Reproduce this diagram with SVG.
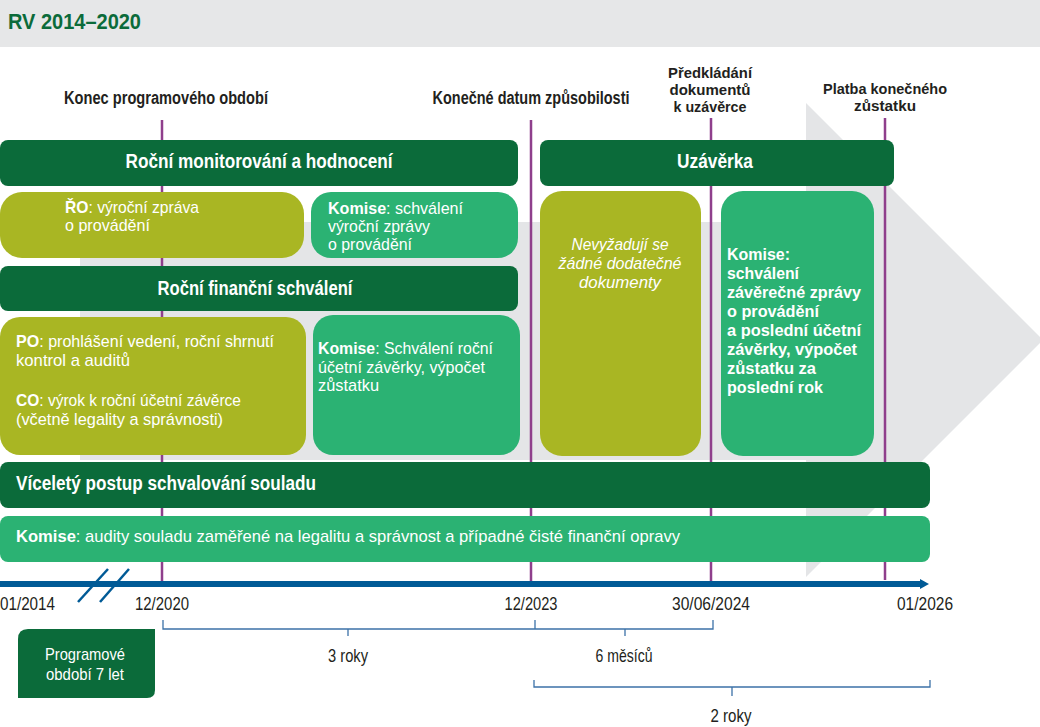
<svg xmlns="http://www.w3.org/2000/svg" width="1040" height="727" viewBox="0 0 1040 727">
<style>
text{font-family:"Liberation Sans",Arial,sans-serif;}
.lbl{font-size:18px;font-weight:bold;fill:#231f20;}
.lbs{font-size:15.5px;font-weight:bold;fill:#231f20;}
.date{font-size:19px;fill:#231f20;}
.bar{fill:#0b6b3a;}
.olive{fill:#a9b623;}
.green{fill:#2bb273;}
.bt{font-size:20px;font-weight:bold;fill:#fff;}
.tx{font-size:17px;fill:#fff;}
.fx{font-size:17px;font-weight:bold;fill:#fff;}
.b{font-weight:bold;}
.pl{stroke:#8f3f8c;stroke-width:2.5;fill:none;}
.br{stroke:#3c72a8;stroke-width:1.3;fill:none;}
</style>
<defs>
<marker id="ah" markerWidth="10" markerHeight="10" refX="0" refY="5" orient="auto" markerUnits="userSpaceOnUse">
<path d="M0,0 L9,5 L0,10 Z" fill="#005a96"/>
</marker>
</defs>
<rect x="0" y="0" width="1040" height="727" fill="#fff"/>
<g id="header">
<rect x="0" y="0" width="1040" height="47" fill="#e6e7e8"/>
<text x="8" y="29" font-size="22" font-weight="bold" fill="#0b6b3a" textLength="133" lengthAdjust="spacingAndGlyphs">RV 2014–2020</text>
</g>
<g id="bg-arrow">
<path d="M80,222 L806,222 L806,103 L1043,340 L806,577 L806,460 L80,460 Z" fill="#e4e5e7"/>
</g>
<g id="connectors">
<line class="pl" x1="162" y1="120" x2="162" y2="583"/>
<line class="pl" x1="531" y1="120" x2="531" y2="583"/>
<line class="pl" x1="711" y1="118" x2="711" y2="583"/>
<line class="pl" x1="885" y1="118" x2="885" y2="580"/>
</g>
<g id="top-labels">
<text class="lbl" x="166" y="104" text-anchor="middle" textLength="204" lengthAdjust="spacingAndGlyphs">Konec programového období</text>
<text class="lbl" x="531" y="104" text-anchor="middle" textLength="197" lengthAdjust="spacingAndGlyphs">Konečné datum způsobilosti</text>
<text class="lbs" x="710" y="78" text-anchor="middle" textLength="84" lengthAdjust="spacingAndGlyphs">Předkládání</text>
<text class="lbs" x="710" y="95" text-anchor="middle" textLength="81" lengthAdjust="spacingAndGlyphs">dokumentů</text>
<text class="lbs" x="710" y="112" text-anchor="middle" textLength="73" lengthAdjust="spacingAndGlyphs">k uzávěrce</text>
<text class="lbs" x="885" y="94" text-anchor="middle" textLength="124" lengthAdjust="spacingAndGlyphs">Platba konečného</text>
<text class="lbs" x="885" y="111" text-anchor="middle" textLength="62" lengthAdjust="spacingAndGlyphs">zůstatku</text>
</g>
<g id="bar-monitoring">
<rect class="bar" x="0" y="140" width="518" height="46" rx="8"/>
<text class="bt" x="259" y="168" text-anchor="middle" textLength="267" lengthAdjust="spacingAndGlyphs">Roční monitorování a hodnocení</text>
</g>
<g id="bar-uzaverka">
<rect class="bar" x="540" y="140" width="354" height="46" rx="8"/>
<text class="bt" x="715" y="168" text-anchor="middle" textLength="76" lengthAdjust="spacingAndGlyphs">Uzávěrka</text>
</g>
<g id="box-ro">
<rect class="olive" x="0" y="192" width="304" height="66" rx="22"/>
<text class="tx" x="65" y="213" textLength="134" lengthAdjust="spacingAndGlyphs"><tspan class="b">ŘO</tspan>: výroční zpráva</text>
<text class="tx" x="65" y="231" textLength="85" lengthAdjust="spacingAndGlyphs">o provádění</text>
</g>
<g id="box-komise-1">
<rect class="green" x="311" y="192" width="207" height="66" rx="20"/>
<text class="tx" x="328" y="214" textLength="135" lengthAdjust="spacingAndGlyphs"><tspan class="b">Komise</tspan>: schválení</text>
<text class="tx" x="328" y="232" textLength="102" lengthAdjust="spacingAndGlyphs">výroční zprávy</text>
<text class="tx" x="328" y="250" textLength="84" lengthAdjust="spacingAndGlyphs">o provádění</text>
</g>
<g id="bar-financni">
<rect class="bar" x="0" y="266" width="518" height="45" rx="8"/>
<text class="bt" x="255" y="295" text-anchor="middle" textLength="195" lengthAdjust="spacingAndGlyphs">Roční finanční schválení</text>
</g>
<g id="box-po-co">
<rect class="olive" x="0" y="317" width="306" height="138" rx="20"/>
<text class="tx" x="16" y="347" textLength="258" lengthAdjust="spacingAndGlyphs"><tspan class="b">PO</tspan>: prohlášení vedení, roční shrnutí</text>
<text class="tx" x="16" y="366" textLength="114" lengthAdjust="spacingAndGlyphs">kontrol a auditů</text>
<text class="tx" x="16" y="406" textLength="225" lengthAdjust="spacingAndGlyphs"><tspan class="b">CO</tspan>: výrok k roční účetní závěrce</text>
<text class="tx" x="16" y="425" textLength="207" lengthAdjust="spacingAndGlyphs">(včetně legality a správnosti)</text>
</g>
<g id="box-komise-2">
<rect class="green" x="313" y="315" width="207" height="140" rx="20"/>
<text class="tx" x="318" y="354" textLength="175" lengthAdjust="spacingAndGlyphs"><tspan class="b">Komise</tspan>: Schválení roční</text>
<text class="tx" x="318" y="373" textLength="167" lengthAdjust="spacingAndGlyphs">účetní závěrky, výpočet</text>
<text class="tx" x="318" y="391" textLength="61" lengthAdjust="spacingAndGlyphs">zůstatku</text>
</g>
<g id="box-nevyzaduji">
<rect class="olive" x="540" y="191" width="161" height="265" rx="22"/>
<text class="tx" x="620" y="250" text-anchor="middle" font-style="italic" textLength="97" lengthAdjust="spacingAndGlyphs">Nevyžadují se</text>
<text class="tx" x="620" y="269" text-anchor="middle" font-style="italic" textLength="123" lengthAdjust="spacingAndGlyphs">žádné dodatečné</text>
<text class="tx" x="620" y="288" text-anchor="middle" font-style="italic" textLength="82" lengthAdjust="spacingAndGlyphs">dokumenty</text>
</g>
<g id="box-komise-final">
<rect class="green" x="721" y="191" width="153" height="265" rx="22"/>
<text class="fx" x="727" y="260" textLength="63" lengthAdjust="spacingAndGlyphs">Komise:</text>
<text class="fx" x="727" y="279" textLength="72" lengthAdjust="spacingAndGlyphs">schválení</text>
<text class="fx" x="727" y="298" textLength="134" lengthAdjust="spacingAndGlyphs">závěrečné zprávy</text>
<text class="fx" x="727" y="317" textLength="92" lengthAdjust="spacingAndGlyphs">o provádění</text>
<text class="fx" x="727" y="336" textLength="134" lengthAdjust="spacingAndGlyphs">a poslední účetní</text>
<text class="fx" x="727" y="355" textLength="130" lengthAdjust="spacingAndGlyphs">závěrky, výpočet</text>
<text class="fx" x="727" y="374" textLength="89" lengthAdjust="spacingAndGlyphs">zůstatku za</text>
<text class="fx" x="727" y="393" textLength="96" lengthAdjust="spacingAndGlyphs">poslední rok</text>
</g>
<g id="bar-vicelety">
<rect class="bar" x="0" y="462" width="930" height="46" rx="8"/>
<text class="bt" x="16" y="490" font-size="19" textLength="300" lengthAdjust="spacingAndGlyphs">Víceletý postup schvalování souladu</text>
</g>
<g id="bar-komise-audity">
<rect class="green" x="0" y="516" width="930" height="46" rx="8"/>
<text class="tx" x="16" y="542" font-size="18" textLength="664" lengthAdjust="spacingAndGlyphs"><tspan class="b">Komise</tspan>: audity souladu zaměřené na legalitu a správnost a případné čisté finanční opravy</text>
</g>
<g id="timeline">
<line x1="0" y1="584" x2="920" y2="584" stroke="#005a96" stroke-width="6" marker-end="url(#ah)"/>
<line x1="78" y1="602" x2="108" y2="569" stroke="#005a96" stroke-width="2.5"/>
<line x1="100" y1="602" x2="129" y2="569" stroke="#005a96" stroke-width="2.5"/>
<text class="date" x="0" y="610" textLength="55" lengthAdjust="spacingAndGlyphs">01/2014</text>
<text class="date" x="162" y="610" text-anchor="middle" textLength="54" lengthAdjust="spacingAndGlyphs">12/2020</text>
<text class="date" x="531" y="610" text-anchor="middle" textLength="53" lengthAdjust="spacingAndGlyphs">12/2023</text>
<text class="date" x="711" y="610" text-anchor="middle" textLength="78" lengthAdjust="spacingAndGlyphs">30/06/2024</text>
<text class="date" x="925" y="610" text-anchor="middle" textLength="56" lengthAdjust="spacingAndGlyphs">01/2026</text>
</g>
<g id="brackets">
<path class="br" d="M163,620 V629 H713 V620 M535,620 V629 M348,629 V636 M625,629 V636"/>
<path class="br" d="M534,680 V687 H930 V680 M732,687 V696"/>
<text class="date" x="348" y="662" text-anchor="middle" textLength="40" lengthAdjust="spacingAndGlyphs">3 roky</text>
<text class="date" x="624" y="662" text-anchor="middle" textLength="57" lengthAdjust="spacingAndGlyphs">6 měsíců</text>
<text class="date" x="731" y="722" text-anchor="middle" textLength="41" lengthAdjust="spacingAndGlyphs">2 roky</text>
</g>
<g id="box-programove">
<path d="M28,629 H155 V690 Q155,698 147,698 H18 V639 Q18,629 28,629 Z" fill="#0b6b3a"/>
<text x="85" y="660" text-anchor="middle" font-size="17" fill="#fff" textLength="80" lengthAdjust="spacingAndGlyphs">Programové</text>
<text x="85" y="680" text-anchor="middle" font-size="17" fill="#fff" textLength="78" lengthAdjust="spacingAndGlyphs">období 7 let</text>
</g>
</svg>
